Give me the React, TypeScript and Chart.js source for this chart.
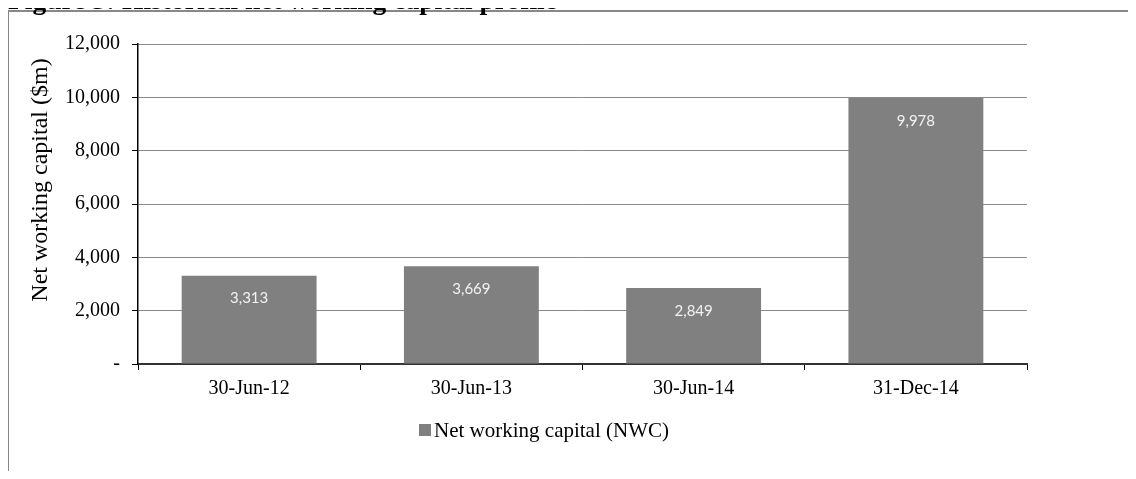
import React, { useEffect, useRef } from "react";
import { Chart, registerables } from "chart.js";

Chart.register(...registerables);

const figureTitle = "Figure 3: Historical net working capital profile";
const categories = ["30-Jun-12", "30-Jun-13", "30-Jun-14", "31-Dec-14"];
const seriesLabel = "Net working capital (NWC)";
const nwcValues = [3313, 3669, 2849, 9978];
const yAxisTitle = "Net working capital ($m)";
const yTickValues = [0, 2000, 4000, 6000, 8000, 10000, 12000];

const SERIF = '"Liberation Serif", "Times New Roman", serif';
const LABEL_FONT = 'Lato, "Liberation Sans", sans-serif';
const fmt = (v: number) => (v === 0 ? "-" : v.toLocaleString("en-US"));

export default function App() {
  const ref = useRef<HTMLCanvasElement | null>(null);

  useEffect(() => {
    if (!ref.current) return;

    const decorations = {
      id: "decorations",
      beforeDraw(chart: any) {
        const { ctx } = chart;
        ctx.save();
        ctx.fillStyle = "#fff";
        ctx.fillRect(0, 0, chart.width, chart.height);
        ctx.fillStyle = "#888888";
        ctx.fillRect(7, 10, 2, 480);
        ctx.fillRect(7, 10, 1140, 2);
        ctx.fillStyle = "#000";
        ctx.font = `bold 27.5px ${SERIF}`;
        ctx.textAlign = "left";
        ctx.textBaseline = "alphabetic";
        ctx.fillText(figureTitle, 8, 9);
        ctx.restore();
      },
      afterDatasetsDraw(chart: any) {
        const { ctx } = chart;
        const meta = chart.getDatasetMeta(0);
        ctx.save();
        ctx.fillStyle = "#f2f2f2";
        ctx.font = `15px ${LABEL_FONT}`;
        ctx.textAlign = "center";
        ctx.textBaseline = "middle";
        meta.data.forEach((el: any, i: number) => {
          ctx.fillText(fmt(chart.data.datasets[0].data[i]), el.x, el.y + 23);
        });
        ctx.restore();
      },
      afterDraw(chart: any) {
        const { ctx } = chart;
        ctx.save();
        ctx.translate(41, 180);
        ctx.rotate(-Math.PI / 2);
        ctx.fillStyle = "#000";
        ctx.font = `24px ${SERIF}`;
        ctx.textAlign = "center";
        ctx.textBaseline = "middle";
        ctx.fillText(yAxisTitle, 0, 0);
        ctx.restore();
        const ds = chart.data.datasets[0];
        ctx.save();
        ctx.fillStyle = ds.backgroundColor;
        ctx.fillRect(419, 424, 12, 12);
        ctx.fillStyle = "#000";
        ctx.font = `21px ${SERIF}`;
        ctx.textAlign = "left";
        ctx.textBaseline = "alphabetic";
        ctx.fillText(ds.label, 434, 437);
        ctx.restore();
      },
    };

    const chart = new Chart(ref.current, {
      type: "bar",
      data: {
        labels: categories,
        datasets: [
          {
            label: seriesLabel,
            data: nwcValues,
            backgroundColor: "#808080",
            borderWidth: 0,
            categoryPercentage: 1,
            barPercentage: 0.607,
          },
        ],
      },
      options: {
        responsive: false,
        animation: false,
        devicePixelRatio: 1,
        layout: { padding: { left: 20, right: 109, top: 44, bottom: 65 } },
        plugins: {
          legend: { display: false },
          tooltip: { enabled: false },
          title: { display: false },
        },
        scales: {
          x: {
            grid: {
              display: true,
              drawOnChartArea: false,
              drawTicks: true,
              tickLength: 6,
              tickColor: "#000",
              offset: true,
            },
            border: { display: true, color: "#333", width: 2 },
            ticks: {
              color: "#000",
              font: { family: SERIF, size: 20 },
              padding: 7,
              maxRotation: 0,
            },
            afterFit: (s: any) => {
              s.height = 50;
            },
          },
          y: {
            min: 0,
            max: 12000,
            afterBuildTicks: (s: any) => {
              s.ticks = yTickValues.map((v) => ({ value: v }));
            },
            grid: {
              color: "#8a8a8a",
              lineWidth: 1,
              drawTicks: true,
              tickLength: 6,
              tickColor: "#000",
            },
            border: { display: true, color: "#000", width: 1.5 },
            ticks: {
              color: "#000",
              font: { family: SERIF, size: 20 },
              padding: 12,
              callback: (v: any) => fmt(Number(v)),
            },
            afterFit: (s: any) => {
              s.width = 118;
            },
          },
        },
      },
      plugins: [decorations],
    });

    return () => chart.destroy();
  }, []);

  return (
    <div
      style={{
        position: "relative",
        margin: "-8px",
        width: 1136,
        height: 479,
        overflow: "hidden",
        background: "#fff",
      }}
    >
      <canvas ref={ref} width={1136} height={479} style={{ display: "block" }} />
    </div>
  );
}
